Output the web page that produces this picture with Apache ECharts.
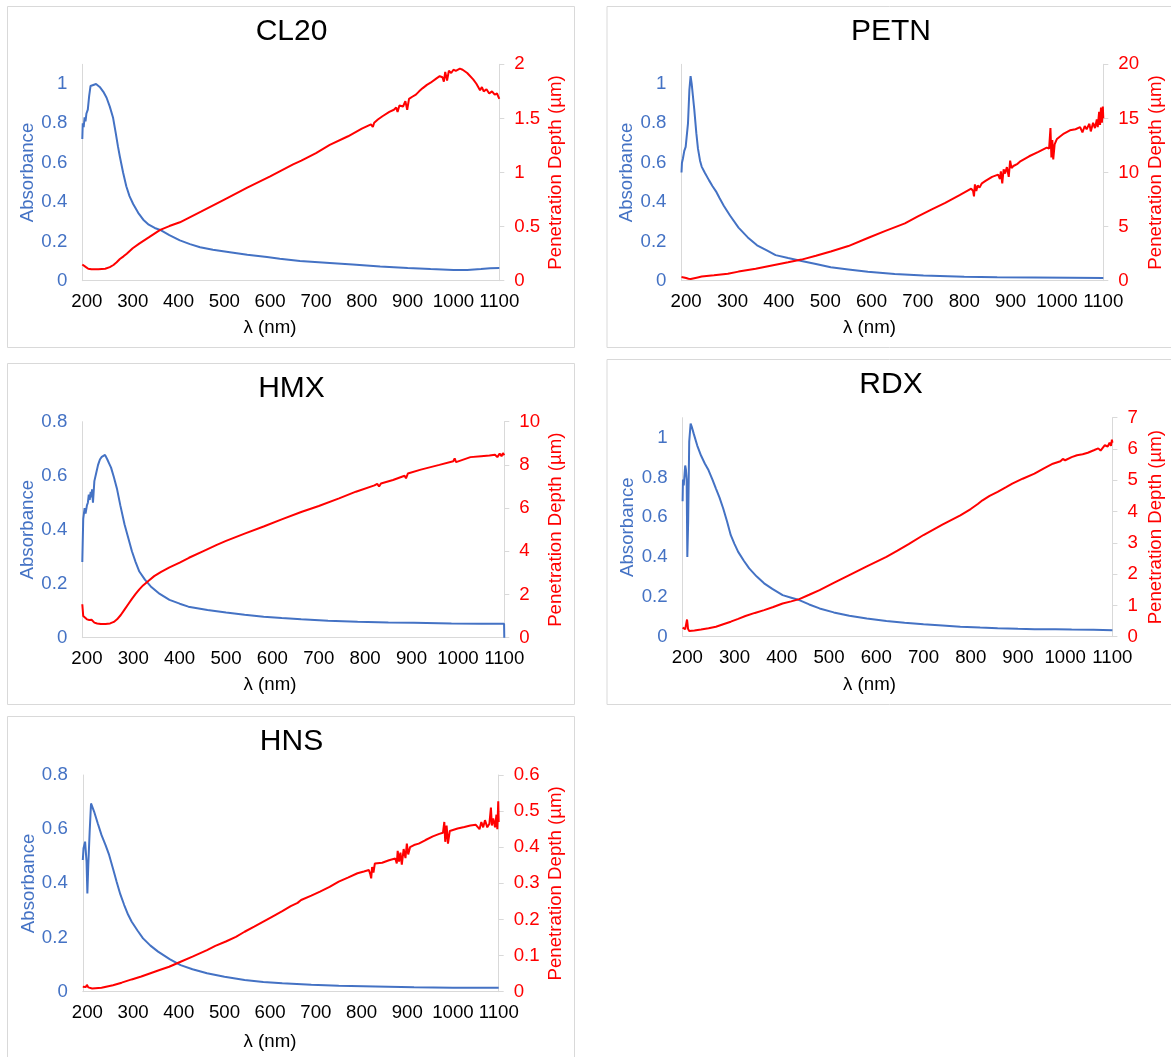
<!DOCTYPE html>
<html>
<head>
<meta charset="utf-8">
<title>Absorbance and penetration depth</title>
<script src="https://cdn.jsdelivr.net/npm/echarts@6/dist/echarts.min.js"></script>
<style>
  html, body { margin: 0; padding: 0; background: #fff; }
  #chart { width: 1171px; height: 1057px; }
</style>
</head>
<body>
<div id="chart"></div>
<script>
// wavelength ticks (nm) shared by all panels
const wavelengthTicks = [200, 300, 400, 500, 600, 700, 800, 900, 1000, 1100];
const absTicksTall = [0, 0.2, 0.4, 0.6, 0.8, 1];
const absTicksShort = [0, 0.2, 0.4, 0.6, 0.8];

// [wavelength nm, absorbance] and [wavelength nm, penetration depth µm]
const cl20Abs = [[190,0.72],[191,0.80],[193,0.78],[195,0.83],[197,0.81],[199,0.85],[202,0.87],[205,0.94],[208,0.99],[212,1.0],[220,1.0],[228,0.985],[236,0.96],[243,0.93],[250,0.885],[257,0.83],[263,0.75],[268,0.68],[272,0.63],[279,0.55],[286,0.48],[293,0.43],[301,0.39],[312,0.345],[323,0.31],[335,0.285],[348,0.268],[360,0.258],[380,0.232],[403,0.205],[425,0.186],[447,0.17],[475,0.157],[512,0.145],[550,0.132],[593,0.12],[621,0.112],[665,0.1],[730,0.09],[780,0.082],[840,0.072],[900,0.064],[950,0.059],[1000,0.055],[1030,0.054],[1060,0.059],[1080,0.063],[1100,0.064]];
const cl20Depth = [[190,0.15],[194,0.14],[198,0.125],[203,0.11],[210,0.105],[225,0.105],[240,0.11],[250,0.125],[258,0.145],[265,0.17],[272,0.2],[280,0.225],[287,0.25],[300,0.3],[315,0.345],[335,0.4],[360,0.47],[380,0.505],[403,0.54],[450,0.64],[500,0.75],[550,0.86],[600,0.965],[650,1.075],[668,1.11],[671,1.1],[700,1.18],[730,1.255],[770,1.335],[800,1.405],[820,1.445],[824,1.42],[827,1.46],[835,1.49],[845,1.52],[860,1.56],[870,1.58],[875,1.6],[878,1.56],[882,1.62],[890,1.61],[895,1.66],[899,1.58],[903,1.68],[910,1.7],[918,1.72],[925,1.75],[933,1.78],[942,1.81],[950,1.83],[963,1.87],[970,1.89],[976,1.88],[979,1.84],[982,1.93],[986,1.85],[990,1.94],[995,1.92],[1000,1.95],[1005,1.94],[1014,1.96],[1020,1.95],[1030,1.92],[1043,1.86],[1050,1.82],[1058,1.76],[1062,1.79],[1066,1.75],[1072,1.77],[1078,1.73],[1084,1.75],[1090,1.72],[1095,1.73],[1100,1.68]];

const petnAbs = [[190,0.55],[191,0.6],[193,0.62],[196,0.66],[199,0.68],[201,0.67],[204,0.8],[207,0.97],[209.6,1.04],[212,1.0],[215,0.93],[217.6,0.87],[222,0.75],[225.6,0.67],[230,0.61],[233.5,0.58],[240,0.55],[249.5,0.51],[257,0.48],[265.5,0.45],[272,0.42],[281.5,0.38],[295,0.33],[313,0.27],[333,0.22],[353,0.18],[373,0.155],[393,0.13],[420,0.115],[449,0.1],[480,0.085],[512,0.068],[550,0.057],[592,0.045],[650,0.034],[712,0.026],[800,0.02],[871,0.017],[950,0.016],[1030,0.015],[1100,0.014]];
const petnDepth = [[190,0.34],[195,0.3],[200,0.25],[205,0.18],[210,0.15],[215,0.2],[225,0.3],[233.5,0.38],[260,0.5],[290,0.65],[313,0.84],[350,1.1],[393,1.48],[420,1.7],[449,1.95],[480,2.3],[512,2.7],[550,3.2],[592,3.95],[630,4.6],[672,5.3],[700,5.95],[730,6.6],[759,7.2],[790,7.9],[815,8.5],[819,8.3],[821,7.8],[823,8.9],[826,8.3],[829,8.8],[833,8.6],[838,9.0],[845,9.2],[860,9.6],[873,9.8],[877,9.4],[879,10.1],[882,9.0],[885,10.3],[888,9.9],[892,10.5],[896,9.6],[899,11.1],[902,10.4],[906,10.6],[915,10.8],[920,11.0],[940,11.5],[960,11.9],[978,12.3],[983,12.2],[986,14.1],[988,11.4],[990,13.0],[992,11.2],[995,12.6],[1000,13.1],[1006,13.3],[1015,13.6],[1028,13.9],[1040,14.0],[1050,14.2],[1055,13.7],[1060,14.3],[1064,14.0],[1070,14.5],[1073,13.8],[1078,14.6],[1082,14.1],[1086,14.9],[1088,14.2],[1091,15.6],[1093,14.4],[1095,16.0],[1097,14.6],[1099,16.1],[1100,15.0]];

const hmxAbs = [[190,0.28],[192,0.44],[195,0.48],[197,0.46],[200,0.49],[202,0.5],[204,0.53],[206,0.51],[208,0.54],[210,0.52],[211,0.55],[213,0.5],[216,0.58],[220,0.61],[224,0.64],[228,0.66],[232,0.67],[236,0.675],[239,0.677],[242,0.672],[244,0.66],[248,0.645],[252,0.63],[258,0.595],[264.6,0.553],[272,0.49],[281,0.42],[289,0.37],[297,0.32],[305,0.28],[313,0.245],[325,0.215],[337.6,0.19],[357,0.162],[378,0.14],[400,0.126],[418.7,0.115],[460,0.103],[500,0.093],[540,0.085],[581,0.078],[620,0.073],[662,0.068],[720,0.063],[783.7,0.059],[850,0.056],[905,0.055],[986,0.053],[1050,0.052],[1099.5,0.052],[1100,0]];
const hmxDepth = [[190,1.55],[192,1.0],[195,0.92],[200,0.85],[205,0.82],[210,0.83],[213,0.75],[216,0.7],[222,0.66],[230,0.63],[240,0.63],[250,0.66],[258,0.73],[265,0.85],[273,1.05],[281,1.3],[289,1.55],[297,1.8],[305,2.03],[313,2.24],[321,2.42],[333,2.64],[345,2.85],[360,3.05],[378,3.26],[400,3.48],[420,3.7],[450,4.0],[480,4.3],[500,4.48],[540,4.82],[581,5.15],[620,5.48],[662,5.82],[700,6.1],[743.7,6.45],[780,6.76],[820,7.05],[826,7.12],[830,7.0],[834,7.14],[860,7.3],[885,7.5],[888,7.38],[892,7.6],[920,7.78],[960,8.0],[990,8.17],[993,8.3],[996,8.13],[1027,8.36],[1050,8.4],[1068,8.43],[1080,8.47],[1085,8.36],[1090,8.52],[1094,8.4],[1097,8.55],[1100,8.45]];

const rdxAbs = [[190,0.68],[190.8,0.79],[192.4,0.76],[195.5,0.86],[197,0.84],[198.6,0.79],[200,0.4],[201.8,0.58],[204,0.98],[207,1.07],[210,1.05],[213.5,1.02],[221,0.96],[229,0.91],[237,0.87],[245,0.836],[253,0.79],[260.6,0.744],[268,0.7],[276,0.644],[284,0.58],[292,0.51],[300,0.465],[307.7,0.426],[320,0.38],[331,0.343],[347,0.302],[362.6,0.268],[380,0.24],[401.8,0.209],[420,0.196],[437,0.184],[458,0.162],[480,0.142],[510,0.122],[543,0.105],[580,0.091],[621.5,0.079],[660,0.07],[700,0.062],[740,0.056],[778,0.05],[820,0.046],[857,0.043],[900,0.04],[935,0.038],[980,0.037],[1013.7,0.036],[1060,0.035],[1100,0.033]];
const rdxDepth = [[190,0.29],[193,0.27],[195.5,0.24],[198,0.3],[199.4,0.55],[200.5,0.4],[201.5,0.25],[204,0.18],[215,0.2],[229,0.23],[245,0.27],[260.6,0.32],[276,0.4],[292,0.48],[307.7,0.57],[323,0.66],[343,0.76],[362.6,0.85],[382,0.95],[401.8,1.06],[420,1.13],[437,1.2],[458,1.34],[480,1.49],[510,1.72],[543,1.97],[580,2.25],[621.5,2.55],[645,2.75],[668.6,2.96],[672,2.94],[700,3.25],[740,3.58],[778,3.88],[800,4.08],[815,4.24],[825,4.36],[840,4.5],[857,4.63],[875,4.78],[888,4.89],[910,5.05],[935,5.21],[955,5.38],[974,5.53],[990,5.61],[995,5.68],[1000,5.64],[1013.7,5.74],[1025,5.8],[1037,5.83],[1048,5.88],[1060.6,5.96],[1070,6.02],[1075,5.95],[1084,6.12],[1090,6.08],[1094,6.2],[1097,6.1],[1099,6.3],[1100,6.2]];

const hnsAbs = [[190,0.486],[191.6,0.53],[195,0.554],[196.6,0.56],[198.2,0.48],[200,0.363],[202,0.468],[205,0.59],[208,0.695],[210.6,0.695],[214.7,0.665],[223,0.62],[231,0.578],[240,0.54],[247.6,0.505],[256,0.455],[264,0.406],[272,0.36],[280.6,0.32],[289,0.285],[297,0.258],[310,0.225],[321.8,0.197],[338,0.17],[354.7,0.148],[380,0.12],[404,0.098],[430,0.083],[461.8,0.068],[500,0.055],[544,0.043],[585,0.036],[626.5,0.031],[690,0.026],[750,0.022],[830,0.019],[914.7,0.016],[1000,0.015],[1100,0.015]];
const hnsDepth = [[190,0.014],[196.6,0.013],[199,0.019],[200.5,0.021],[202,0.012],[205,0.01],[210.6,0.009],[231,0.011],[256,0.018],[275,0.025],[297,0.034],[318,0.042],[338,0.051],[358,0.06],[379,0.069],[404,0.083],[430,0.097],[461.8,0.115],[480,0.127],[503,0.139],[525,0.152],[544,0.166],[565,0.18],[585,0.194],[605,0.208],[626.5,0.223],[645,0.237],[660,0.246],[663,0.242],[667.7,0.254],[690,0.266],[709,0.277],[730,0.29],[750,0.305],[770,0.316],[791,0.328],[805,0.333],[816,0.337],[819,0.325],[821,0.314],[823,0.345],[826,0.33],[829,0.355],[832,0.351],[845,0.357],[860,0.364],[873.7,0.369],[877,0.355],[879,0.39],[882,0.36],[885,0.385],[888,0.352],[892,0.395],[896,0.37],[899,0.41],[902,0.38],[906,0.4],[914.7,0.406],[925,0.41],[940,0.42],[955.9,0.43],[970,0.437],[978,0.44],[981,0.47],[983,0.415],[986,0.46],[989,0.41],[993,0.445],[997,0.448],[1010,0.452],[1025,0.456],[1038,0.46],[1050,0.462],[1058,0.45],[1062,0.47],[1066,0.455],[1070,0.475],[1075,0.455],[1079.6,0.465],[1083,0.51],[1085,0.46],[1088,0.48],[1092,0.455],[1095,0.49],[1097,0.45],[1099,0.527],[1100,0.47]];

const FONT = '"Liberation Sans", Arial, sans-serif';
const BLUE = '#4472C4';
const RED = '#FF0000';
const GRAY = '#d9d9d9';
const LABEL_SIZE = 18.67;

// panel frame [x, y, w, h] and plot area [left, top, right, bottom] in page pixels
const panels = [
  { title: 'CL20', box: [8, 6, 567, 341], plot: [82.3, 64.3, 499.3, 280.7], abs: cl20Abs, depth: cl20Depth, absMax: 1.1, absTicks: absTicksTall, depthMax: 2, depthStep: 0.5 },
  { title: 'PETN', box: [607.5, 6, 572, 341], plot: [681.5, 64.3, 1103.3, 280.7], abs: petnAbs, depth: petnDepth, absMax: 1.1, absTicks: absTicksTall, depthMax: 20, depthStep: 5 },
  { title: 'HMX', box: [8, 363, 567, 341], plot: [82.3, 421.7, 504.3, 637.7], abs: hmxAbs, depth: hmxDepth, absMax: 0.8, absTicks: absTicksShort, depthMax: 10, depthStep: 2 },
  { title: 'RDX', box: [607.5, 359, 572, 345], plot: [682.6, 417.7, 1112.4, 636.7], abs: rdxAbs, depth: rdxDepth, absMax: 1.1, absTicks: absTicksTall, depthMax: 7, depthStep: 1 },
  { title: 'HNS', box: [8, 716, 567, 345], plot: [82.8, 775, 498.7, 991.7], abs: hnsAbs, depth: hnsDepth, absMax: 0.8, absTicks: absTicksShort, depthMax: 0.6, depthStep: 0.1 }
];

const chart = echarts.init(document.getElementById('chart'));

const titles = [], grids = [], xAxes = [], yAxes = [], series = [], frames = [];
const plain = v => String(v);

panels.forEach((p, i) => {
  const [bx, by, bw, bh] = p.box;
  const [pl, pt, pr, pb] = p.plot;
  const half = LABEL_SIZE / 2;

  frames.push({
    type: 'rect',
    shape: { x: bx - 0.5, y: by + 0.5, width: bw, height: bh },
    style: { fill: 'none', stroke: GRAY, lineWidth: 1 },
    silent: true
  });

  titles.push({
    text: p.title,
    left: bx + 283.5,
    top: by + 11,
    textAlign: 'center',
    padding: 0,
    textStyle: { fontFamily: FONT, fontSize: 30, fontWeight: 'normal', color: '#000' }
  });

  grids.push({ left: pl, top: pt, width: pr - pl, height: pb - pt });

  // x axis title sits a bit left of the plot centre, as in the source
  const xShift = (pl + pr) / 2 - (bx + 262);
  xAxes.push({
    gridIndex: i,
    type: 'value',
    min: 190,
    max: 1100,
    axisLine: { show: true, onZero: false, lineStyle: { color: GRAY, width: 1 } },
    axisTick: { show: false },
    splitLine: { show: false },
    axisLabel: {
      customValues: wavelengthTicks, formatter: plain, showMinLabel: true, showMaxLabel: true, hideOverlap: false,
      margin: 12, color: '#000', fontSize: LABEL_SIZE, fontFamily: FONT
    },
    name: 'λ (nm)',
    nameLocation: 'middle',
    nameGap: (by + bh - 19) - pb - half,
    nameTextStyle: {
      color: '#000', fontSize: LABEL_SIZE, fontFamily: FONT,
      padding: xShift > 0 ? [0, 2 * xShift, 0, 0] : [0, 0, 0, -2 * xShift]
    }
  });

  yAxes.push({
    gridIndex: i,
    type: 'value',
    position: 'left',
    min: 0,
    max: p.absMax,
    axisLine: { show: true, lineStyle: { color: GRAY, width: 1 } },
    axisTick: { show: false },
    splitLine: { show: false },
    axisLabel: {
      customValues: p.absTicks, formatter: plain, hideOverlap: false,
      margin: 15, color: BLUE, fontSize: LABEL_SIZE, fontFamily: FONT
    },
    name: 'Absorbance',
    nameLocation: 'middle',
    nameGap: pl - (bx + 21) - half,
    nameTextStyle: { color: BLUE, fontSize: LABEL_SIZE, fontFamily: FONT }
  });

  yAxes.push({
    gridIndex: i,
    type: 'value',
    position: 'right',
    min: 0,
    max: p.depthMax,
    interval: p.depthStep,
    axisLine: { show: true, lineStyle: { color: GRAY, width: 1 } },
    axisTick: { show: true, length: 5, lineStyle: { color: GRAY } },
    splitLine: { show: false },
    axisLabel: {
      formatter: plain, showMinLabel: true, showMaxLabel: true, hideOverlap: false,
      margin: 15, color: RED, fontSize: LABEL_SIZE, fontFamily: FONT
    },
    name: 'Penetration Depth (µm)',
    nameLocation: 'middle',
    nameGap: (bx + 547.7) - pr - half,
    nameTextStyle: { color: RED, fontSize: LABEL_SIZE, fontFamily: FONT }
  });

  series.push({
    name: p.title + ' absorbance',
    type: 'line',
    xAxisIndex: i,
    yAxisIndex: 2 * i,
    data: p.abs,
    showSymbol: false,
    symbol: 'none',
    lineStyle: { color: BLUE, width: 2 },
    itemStyle: { color: BLUE },
    z: 2
  });
  series.push({
    name: p.title + ' penetration depth',
    type: 'line',
    xAxisIndex: i,
    yAxisIndex: 2 * i + 1,
    data: p.depth,
    showSymbol: false,
    symbol: 'none',
    lineStyle: { color: RED, width: 2 },
    itemStyle: { color: RED },
    z: 3
  });
});

chart.setOption({
  animation: false,
  backgroundColor: '#fff',
  title: titles,
  grid: grids,
  xAxis: xAxes,
  yAxis: yAxes,
  series: series,
  graphic: frames
});
</script>
</body>
</html>
